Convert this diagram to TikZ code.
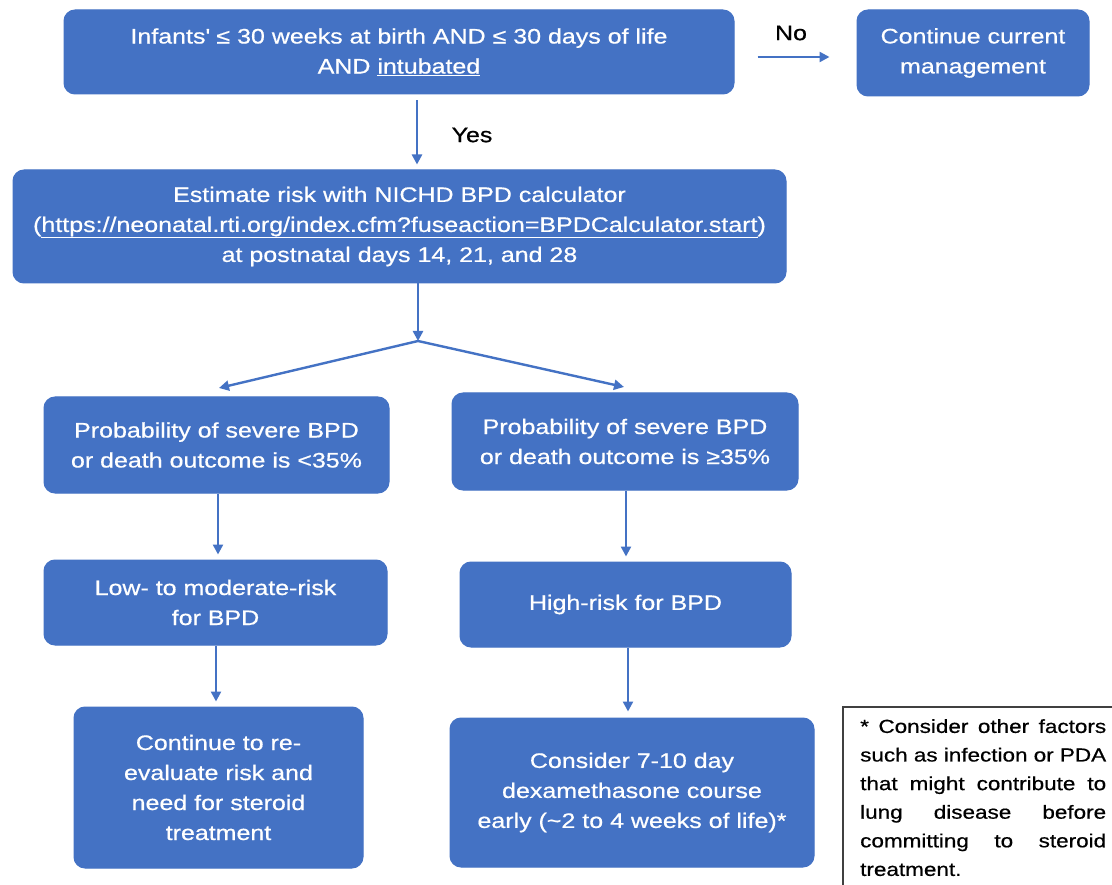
\documentclass[tikz,border=0pt]{standalone}
\usepackage{fontspec}
\setmainfont{Liberation Sans}[FakeStretch=1.19, FakeBold=0.6]
\usetikzlibrary{arrows.meta}
\definecolor{boxblue}{HTML}{4472C4}
\tikzset{
  bx/.style={draw=boxblue, fill=boxblue, rounded corners=11pt, text=white, align=center,
    font=\fontsize{21}{30}\selectfont, inner sep=0pt, line width=1pt},
  arr/.style={draw=boxblue, line width=2.4pt, -{Triangle[length=10pt,width=10pt]}},
  lin/.style={draw=boxblue, line width=2.4pt},
  lbl/.style={font=\fontsize{21}{24}\selectfont, text=black, inner sep=0pt},
  notebox/.style={draw=black!75, line width=1.8pt}
}
\begin{document}
\begin{tikzpicture}[x=1pt,y=-1pt]
\useasboundingbox (0,0) rectangle (1112,885);
\fill[white] (0,0) rectangle (1112,885);
\node[bx, minimum width=670pt, minimum height=84pt] (b1) at (399,52)
  {Infants\textquotesingle\ ≤ 30 weeks at birth AND ≤ 30 days of life\\AND \underline{intubated}};
\node[bx, minimum width=232pt, minimum height=86pt] (cm) at (973,53)
  {Continue current\\management};
\node[bx, minimum width=773pt, minimum height=113pt] (b2) at (399.5,226.5)
  {Estimate risk with NICHD BPD calculator\\(\underline{https://neonatal.rti.org/index.cfm?fuseaction=BPDCalculator.start})\\at postnatal days 14, 21, and 28};
\node[bx, minimum width=345pt, minimum height=96pt] (b3l) at (216.5,445)
  {Probability of severe BPD\\or death outcome is <35\%};
\node[bx, minimum width=346pt, minimum height=97pt] (b3r) at (625,441.5)
  {Probability of severe BPD\\or death outcome is ≥35\%};
\node[bx, minimum width=343pt, minimum height=85pt] (b4l) at (215.5,602.5)
  {Low- to moderate-risk\\for BPD};
\node[bx, minimum width=331pt, minimum height=85pt] (b4r) at (625.5,604.5)
  {High-risk for BPD};
\node[bx, minimum width=289pt, minimum height=161pt] (b5l) at (218.5,787.5)
  {Continue to re-\\evaluate risk and\\need for steroid\\treatment};
\node[bx, minimum width=364pt, minimum height=149pt] (b5r) at (632,792.5)
  {Consider 7-10 day\\dexamethasone course\\early (\textasciitilde2 to 4 weeks of life)*};
% note box
\begin{scope}
\clip (0,0) rectangle (1112,885);
\draw[notebox] (843,707) rectangle (1130,900);
\end{scope}
\node[anchor=north west, inner sep=0pt, font=\fontsize{18.9}{28.6}\selectfont, align=left] (note) at (860,719)
  {\makebox[246pt][s]{* Consider other factors}\\
   \makebox[246pt][s]{such as infection or PDA}\\
   \makebox[246pt][s]{that might contribute to}\\
   \makebox[246pt][s]{lung disease before}\\
   \makebox[246pt][s]{committing to steroid}\\
   treatment.};
% coordinates
\coordinate (yx) at (417,0);
\coordinate (br) at (418,341);
\coordinate (brL) at (219,388);
\coordinate (brR) at (624,387);
% connectors
\draw[arr] ([xshift=23pt,yshift=-5pt]b1.east) -- ([xshift=-27pt,yshift=-4pt]cm.west);
\node[lbl] (no) at (791,33) {No};
\draw[arr, shorten <=6pt, shorten >=5pt] (b1.south -| yx) -- (b2.north -| yx);
\node[lbl] (yes) at (472,135) {Yes};
\draw[arr] (b2.south -| br) -- (br);
\draw[arr] (br) -- (brL);
\draw[arr] (br) -- (brR);
\draw[arr, shorten >=5pt] (b3l.south -| 218,0) -- (b4l.north -| 218,0);
\draw[arr, shorten >=5pt] (b3r.south -| 626,0) -- (b4r.north -| 626,0);
\draw[arr, shorten >=5pt] (b4l.south -| 216,0) -- (b5l.north -| 216,0);
\draw[arr, shorten >=6pt] (b4r.south -| 628,0) -- (b5r.north -| 628,0);
\end{tikzpicture}
\end{document}
